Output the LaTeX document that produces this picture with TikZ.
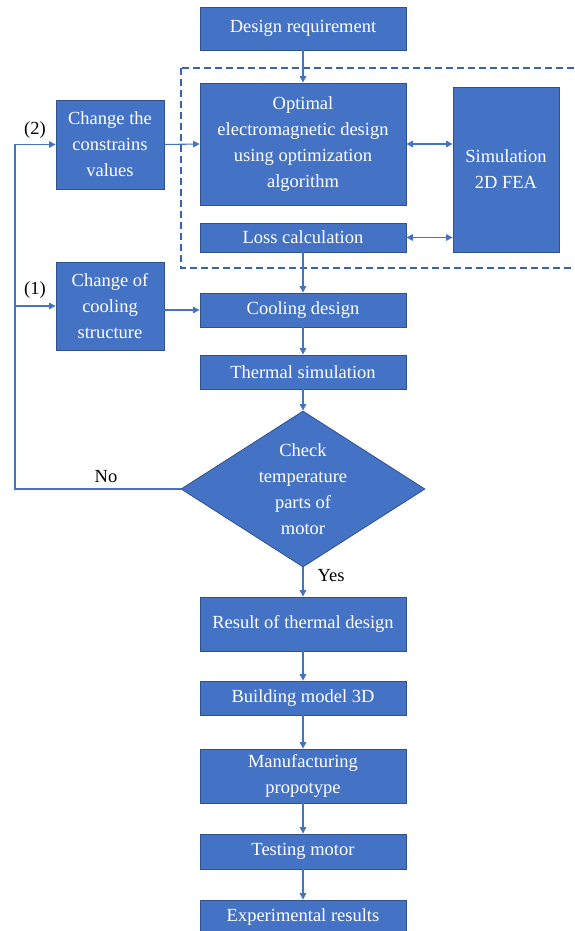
\documentclass[tikz,border=0pt]{standalone}
\usepackage{fontspec}
\setmainfont{Liberation Serif}
\usetikzlibrary{shapes.geometric,arrows.meta}
\definecolor{boxblue}{HTML}{4472C4}
\definecolor{bord}{HTML}{2F528F}
\definecolor{lineblue}{HTML}{4472C4}
\definecolor{dashblue}{HTML}{3A62B0}
\begin{document}
\begin{tikzpicture}[x=1pt,y=-1pt,
  box/.style={draw=bord, fill=boxblue, text=white, line width=0.8pt, align=center, inner sep=0pt,
    font=\fontsize{18.5}{26}\selectfont},
  lbl/.style={text=black, inner sep=0pt, font=\fontsize{18.5}{26}\selectfont},
  arr/.style={draw=lineblue, line width=1.1pt, -{Triangle[width=6.5pt,length=6.5pt]}},
  darr/.style={draw=lineblue, line width=1.1pt, {Triangle[width=6.5pt,length=6.5pt]}-{Triangle[width=6.5pt,length=6.5pt]}},
  ln/.style={draw=lineblue, line width=1.1pt}]
\useasboundingbox (0,0) rectangle (575,931);
% dashed group
\draw[dashblue, line width=1.2pt, dash pattern=on 7pt off 4pt] (181,68) rectangle (590,268);
% nodes
\node[box, minimum width=206, minimum height=43] (req) at (303,28.5) {Design requirement};
\node[box, minimum width=206, minimum height=122] (opt) at (303,144) {Optimal\\electromagnetic design\\using optimization\\algorithm};
\node[box, minimum width=206, minimum height=29] (loss) at (303,237.5) {Loss calculation};
\node[box, minimum width=106, minimum height=165] (sim) at (506,169.5) {Simulation\\2D FEA};
\node[box, minimum width=108, minimum height=89] (chg2) at (110,144.5) {Change the\\constrains\\values};
\node[box, minimum width=108, minimum height=88] (chg1) at (110,306) {Change of\\cooling\\structure};
\node[box, minimum width=206, minimum height=34] (cool) at (303,310) {Cooling design};
\node[box, minimum width=206, minimum height=34] (therm) at (303,372) {Thermal simulation};
\node[box, shape=diamond, aspect=1.564, minimum width=244, minimum height=156] (dia) at (303,489) {Check\\temperature\\parts of\\motor};
\node[box, minimum width=206, minimum height=54] (res) at (303,624) {Result of thermal design};
\node[box, minimum width=206, minimum height=34] (build) at (303,698) {Building model 3D};
\node[box, minimum width=206, minimum height=54] (manu) at (303,776) {Manufacturing\\propotype};
\node[box, minimum width=206, minimum height=35] (test) at (303,851.5) {Testing motor};
\node[box, minimum width=206, minimum height=35] (exp) at (303,917.5) {Experimental results};
% labels
\node[lbl] (l2) at (35,130) {(2)};
\node[lbl] (l1) at (35,290) {(1)};
\node[lbl] (lno) at (106,477) {No};
\node[lbl] (lyes) at (331,576) {Yes};
% connectors
\coordinate (c1) at (15,489);
\draw[arr] (req) -- (opt);
\draw[arr] (chg2.east) -- (opt.west);
\draw[darr] (opt.east) -- (opt.east -| sim.west);
\draw[darr] (loss.east) -- (loss.east -| sim.west);
\draw[arr] (loss) -- (cool);
\draw[arr] (chg1.east |- cool.west) -- (cool.west);
\draw[arr] (cool) -- (therm);
\draw[arr] (therm) -- (dia);
\draw[arr] (dia) -- (res);
\draw[arr] (res) -- (build);
\draw[arr] (build) -- (manu);
\draw[arr] (manu) -- (test);
\draw[arr] (test) -- (exp);
\draw[arr] (dia.west) -- (c1) |- (chg2.west);
\draw[arr] (c1 |- chg1.west) -- (chg1.west);
\end{tikzpicture}
\end{document}
